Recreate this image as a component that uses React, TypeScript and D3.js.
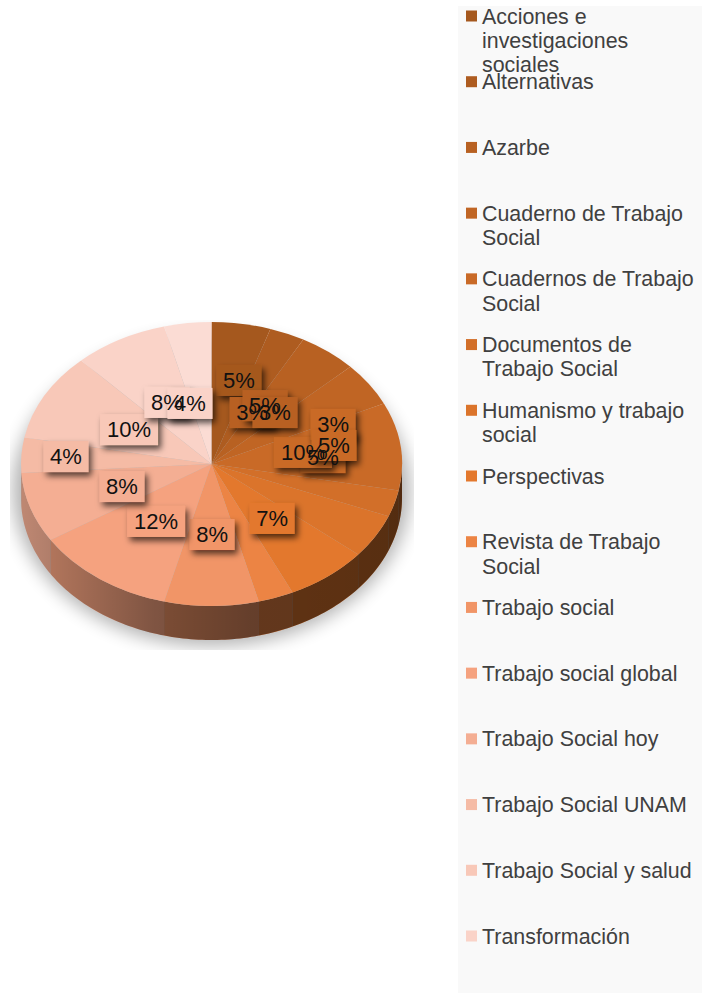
import React from 'react';
import * as d3 from 'd3';

// legend names, the 16th slice has no visible entry in the reference
const legendNames = [
  ['Acciones e', 'investigaciones', 'sociales'],
  ['Alternativas'],
  ['Azarbe'],
  ['Cuaderno de Trabajo', 'Social'],
  ['Cuadernos de Trabajo', 'Social'],
  ['Documentos de', 'Trabajo Social'],
  ['Humanismo y trabajo', 'social'],
  ['Perspectivas'],
  ['Revista de Trabajo', 'Social'],
  ['Trabajo social'],
  ['Trabajo social global'],
  ['Trabajo Social hoy'],
  ['Trabajo Social UNAM'],
  ['Trabajo Social y salud'],
  ['Transformación'],
];

const percents = [5, 3, 5, 5, 10, 3, 5, 7, 3, 8, 12, 8, 4, 10, 8, 4];

const sliceColors = [
  '#A5581E', '#AE5C20', '#B86122', '#C06524', '#C96A27', '#D26F29', '#DB742B', '#E3782D',
  '#EC8444', '#F19567', '#F5A27F', '#F4AE93', '#F5BBA5', '#F8C8B8', '#FAD3C8', '#FBDCD4',
];

// hand placed data labels, as a fraction of the pie radius from its centre
const labelSpots = [
  [0.144, -0.592], [0.213, -0.366], [0.281, -0.415], [0.585, -0.049],
  [0.48, -0.085], [0.638, -0.282], [0.643, -0.134], [0.318, 0.38],
  [0.333, -0.366], [0.003, 0.493], [-0.291, 0.401], [-0.47, 0.155],
  [-0.764, -0.056], [-0.433, -0.246], [-0.234, -0.437], [-0.113, -0.43],
];

const width = 710;
const height = 993;
const cx = 211.5;
const cy = 464;
const rx = 190.5;
const ry = 142;
const depth = 34;

const FONT = '"Liberation Sans", Arial, sans-serif';

const App = () => {
  const slices = d3.pie<number>().value(d => d).sort(null)(percents);

  const arc = d3.arc<d3.PieArcDatum<number>>().innerRadius(0).outerRadius(rx);

  const xPos = d3.scaleLinear().domain([-1, 1]).range([cx - rx, cx + rx]);
  const yPos = d3.scaleLinear().domain([-1, 1]).range([cy - ry, cy + ry]);

  // wall of the pie: only the part of each slice on the front half
  const wall = d3.area<number>()
    .x(a => cx + rx * Math.sin(a))
    .y0(a => cy - ry * Math.cos(a))
    .y1(a => cy - ry * Math.cos(a) + depth);

  const wallPath = (start: number, end: number) => {
    const from = Math.max(start, Math.PI / 2);
    const to = Math.min(end, (3 * Math.PI) / 2);
    if (to <= from) return null;
    const steps = d3.range(from, to, 0.02).concat(to);
    return wall(steps);
  };

  // a label box takes the colour of the slice it sits on
  const colorUnder = ([fx, fy]: number[]) => {
    let angle = Math.atan2(fx, -fy);
    if (angle < 0) angle += Math.PI * 2;
    const hit = slices.findIndex(s => angle >= s.startAngle && angle < s.endAngle);
    return sliceColors[hit < 0 ? 0 : hit];
  };

  const legendY = d3.scaleLinear().domain([0, 14]).range([16, 936]);

  return (
    <svg
      width={width}
      height={height}
      style={{ position: 'absolute', left: 0, top: 0, display: 'block' }}
      fontFamily={FONT}
    >
      <defs>
        <filter id="pieShadow" x="-20%" y="-20%" width="140%" height="140%">
          <feGaussianBlur stdDeviation="9" />
        </filter>
        <filter id="boxShadow" x="-30%" y="-30%" width="170%" height="180%">
          <feDropShadow dx="3" dy="4" stdDeviation="3" floodColor="#000" floodOpacity="0.65" />
        </filter>
        <clipPath id="shadowClip">
          <rect x={10} y={320} width={404} height={330} />
        </clipPath>
        <linearGradient id="wallShade" x1="0" x2="1" y1="0" y2="0">
          <stop offset="0%" stopColor="#000" stopOpacity="0.22" />
          <stop offset="35%" stopColor="#000" stopOpacity="0.48" />
          <stop offset="60%" stopColor="#000" stopOpacity="0.58" />
          <stop offset="100%" stopColor="#000" stopOpacity="0.6" />
        </linearGradient>
      </defs>

      <rect x={458} y={6} width={244} height={987} fill="#f9f9f9" />

      <g clipPath="url(#shadowClip)">
        <ellipse cx={cx} cy={cy + 26} rx={rx + 8} ry={ry + 14} fill="#000" opacity={0.3} filter="url(#pieShadow)" />
      </g>

      {slices.map((d, i) => {
        const path = wallPath(d.startAngle, d.endAngle);
        return path ? <path key={i} d={path} fill={sliceColors[i]} /> : null;
      })}
      <path d={wallPath(0, Math.PI * 2) as string} fill="url(#wallShade)" />

      <g transform={`translate(${cx},${cy}) scale(1,${ry / rx})`}>
        {slices.map((d, i) => (
          <path key={i} d={arc(d) as string} fill={sliceColors[i]} />
        ))}
      </g>

      {slices.map((d, i) => {
        const w = d.value >= 10 ? 58 : 45;
        return (
          <rect
            key={i}
            x={xPos(labelSpots[i][0]) - w / 2}
            y={yPos(labelSpots[i][1]) - 15}
            width={w}
            height={31}
            fill={colorUnder(labelSpots[i])}
            filter="url(#boxShadow)"
          />
        );
      })}
      {slices.map((d, i) => (
        <text
          key={i}
          x={xPos(labelSpots[i][0])}
          y={yPos(labelSpots[i][1])}
          dy="0.35em"
          textAnchor="middle"
          fontSize={22}
          fill="#111"
        >
          {d.value}%
        </text>
      ))}

      {legendNames.map((lines, i) => (
        <g key={i} transform={`translate(0,${legendY(i)})`}>
          <rect x={466} y={-5.5} width={11} height={11} fill={sliceColors[i]} />
          {lines.map((line, j) => (
            <text key={j} x={482} y={j * 24.4} dy="0.35em" fontSize={21.4} fill="#404040">
              {line}
            </text>
          ))}
        </g>
      ))}
    </svg>
  );
};

export default App;
